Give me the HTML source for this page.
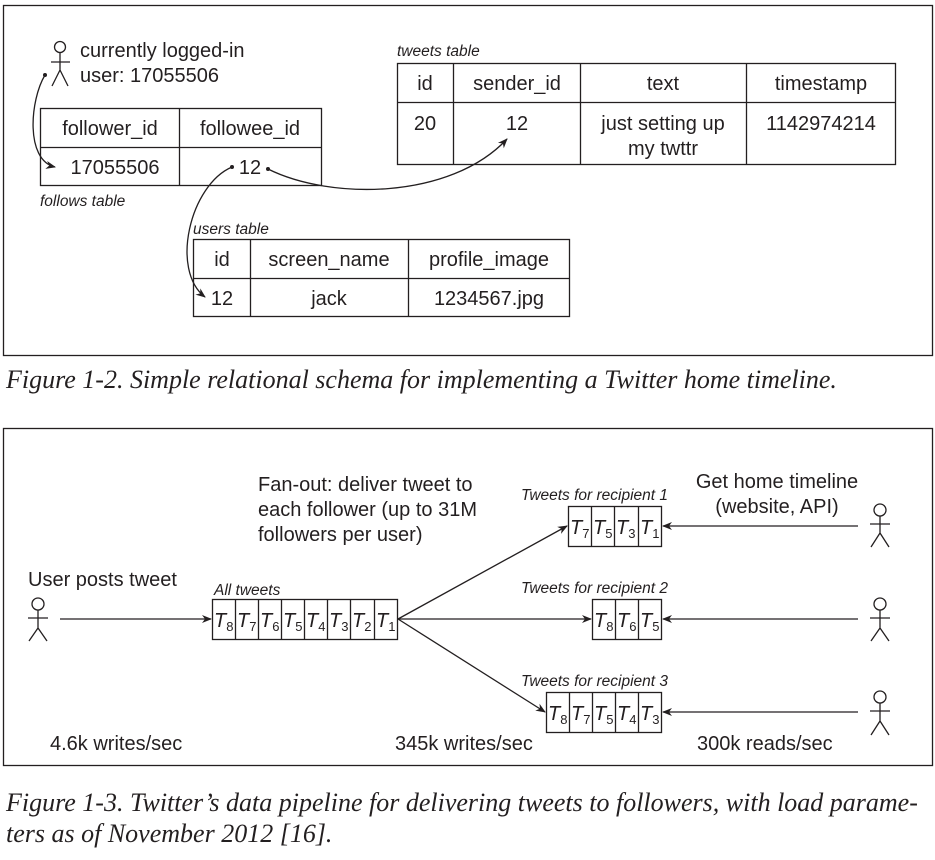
<!DOCTYPE html>
<html><head><meta charset="utf-8"><style>
html,body{margin:0;padding:0;background:#fff;}
svg{display:block;}
text{font-family:"Liberation Sans",sans-serif;fill:#231f20;}
.t{font-size:20px;}
.it{font-style:italic;font-size:15.5px;}
.cap{font-family:"Liberation Serif",serif;font-style:italic;font-size:26px;}
.ti{font-style:italic;font-size:20px;}
.sub{font-size:13px;font-style:normal;}
</style></head><body>
<svg width="935" height="860" viewBox="0 0 935 860" xmlns="http://www.w3.org/2000/svg">
<defs>
<marker id="a" markerWidth="10" markerHeight="10" refX="9" refY="5" orient="auto" markerUnits="userSpaceOnUse">
<path d="M0,1 L10,5 L0,9 L3,5 Z" fill="#231f20"/></marker>
</defs>
<g fill="none" stroke="#231f20" stroke-width="1.3">
<rect x="3.5" y="5.5" width="929" height="350"/>
<rect x="3.5" y="428.5" width="929" height="337"/>
<circle cx="60" cy="47" r="5.5"/><path d="M60,52.5 V70 M51,62 H70 M60,70 L52,86 M60,70 L68,86"/>
<rect x="40.5" y="108.5" width="281" height="77"/><path d="M40,147.5 H322 M179.5,108 V186"/>
<rect x="397.5" y="63.5" width="498" height="101"/><path d="M397,102.5 H896 M453.5,63 V165 M580.5,63 V165 M746.5,63 V165"/>
<rect x="193.5" y="239.5" width="376" height="77"/><path d="M193,278.5 H570 M250.5,239 V317 M408.5,239 V317"/>
<path d="M45,75 C30,100 25,160 55,167" marker-end="url(#a)"/>
<path d="M232,167 C190,185 170,270 205,297" marker-end="url(#a)"/>
<path d="M268,169 C330,200 450,200 507,139" marker-end="url(#a)"/>
</g>
<g fill="#231f20"><circle cx="45" cy="75" r="2"/><circle cx="232" cy="167" r="2"/><circle cx="268" cy="169" r="2"/></g>
<text class="t" x="80" y="57">currently logged-in</text>
<text class="t" x="80" y="82">user: 17055506</text>
<text class="it" x="397" y="56">tweets table</text>
<text class="it" x="40" y="206">follows table</text>
<text class="it" x="193" y="234">users table</text>
<g class="t" text-anchor="middle">
<text x="110" y="135">follower_id</text><text x="250" y="135">followee_id</text>
<text x="115" y="174">17055506</text><text x="250" y="174">12</text>
<text x="425" y="90">id</text><text x="517" y="90">sender_id</text><text x="663" y="90">text</text><text x="821" y="90">timestamp</text>
<text x="425" y="130">20</text><text x="517" y="130">12</text><text x="663" y="130">just setting up</text><text x="663" y="155">my twttr</text><text x="821" y="130">1142974214</text>
<text x="222" y="266">id</text><text x="329" y="266">screen_name</text><text x="489" y="266">profile_image</text>
<text x="222" y="305">12</text><text x="329" y="305">jack</text><text x="489" y="305">1234567.jpg</text>
</g>
<text class="cap" x="6" y="388">Figure 1-2. Simple relational schema for implementing a Twitter home timeline.</text>

<g fill="none" stroke="#231f20" stroke-width="1.3">
<circle cx="38" cy="604" r="6"/><path d="M38,610 V628 M28,618 H48 M38,628 L29,641 M38,628 L47,641"/>
<circle cx="880" cy="510" r="6"/><path d="M880,516 V533 M870,524 H890 M880,533 L871,547 M880,533 L889,547"/>
<circle cx="880" cy="604" r="6"/><path d="M880,610 V628 M870,618 H890 M880,628 L871,641 M880,628 L889,641"/>
<circle cx="880" cy="697" r="6"/><path d="M880,703 V721 M870,711 H890 M880,721 L871,735 M880,721 L889,735"/>
<rect x="212.5" y="599.5" width="185" height="40"/>
<path d="M235.5,599 V640 M258.5,599 V640 M281.5,599 V640 M304.5,599 V640 M327.5,599 V640 M350.5,599 V640 M374.5,599 V640"/>
<rect x="568.5" y="506.5" width="93" height="40"/><path d="M591.5,506 V547 M614.5,506 V547 M638.5,506 V547"/>
<rect x="592.5" y="599.5" width="69" height="40"/><path d="M615.5,599 V640 M638.5,599 V640"/>
<rect x="546.5" y="692.5" width="115" height="40"/><path d="M569.5,692 V733 M592.5,692 V733 M615.5,692 V733 M638.5,692 V733"/>
<path d="M60,619 H211" marker-end="url(#a)"/>
<path d="M398,619 L567,526" marker-end="url(#a)"/>
<path d="M398,619 H591" marker-end="url(#a)"/>
<path d="M398,619 L545,712" marker-end="url(#a)"/>
<path d="M858,526 H663" marker-end="url(#a)"/>
<path d="M858,619 H663" marker-end="url(#a)"/>
<path d="M858,712 H663" marker-end="url(#a)"/>
</g>
<g class="ti">
<text x="214" y="627">T<tspan class="sub" dy="4">8</tspan></text>
<text x="237" y="627">T<tspan class="sub" dy="4">7</tspan></text>
<text x="260" y="627">T<tspan class="sub" dy="4">6</tspan></text>
<text x="283" y="627">T<tspan class="sub" dy="4">5</tspan></text>
<text x="306" y="627">T<tspan class="sub" dy="4">4</tspan></text>
<text x="329" y="627">T<tspan class="sub" dy="4">3</tspan></text>
<text x="352" y="627">T<tspan class="sub" dy="4">2</tspan></text>
<text x="376" y="627">T<tspan class="sub" dy="4">1</tspan></text>
<text x="570" y="534">T<tspan class="sub" dy="4">7</tspan></text>
<text x="593" y="534">T<tspan class="sub" dy="4">5</tspan></text>
<text x="616" y="534">T<tspan class="sub" dy="4">3</tspan></text>
<text x="640" y="534">T<tspan class="sub" dy="4">1</tspan></text>
<text x="594" y="627">T<tspan class="sub" dy="4">8</tspan></text>
<text x="617" y="627">T<tspan class="sub" dy="4">6</tspan></text>
<text x="640" y="627">T<tspan class="sub" dy="4">5</tspan></text>
<text x="548" y="720">T<tspan class="sub" dy="4">8</tspan></text>
<text x="571" y="720">T<tspan class="sub" dy="4">7</tspan></text>
<text x="594" y="720">T<tspan class="sub" dy="4">5</tspan></text>
<text x="617" y="720">T<tspan class="sub" dy="4">4</tspan></text>
<text x="640" y="720">T<tspan class="sub" dy="4">3</tspan></text>
</g>
<text class="it" x="214" y="595">All tweets</text>
<text class="it" x="521" y="500">Tweets for recipient 1</text>
<text class="it" x="521" y="593">Tweets for recipient 2</text>
<text class="it" x="521" y="686">Tweets for recipient 3</text>
<text class="t" x="28" y="586">User posts tweet</text>
<text class="t" x="258" y="491">Fan-out: deliver tweet to</text>
<text class="t" x="258" y="516">each follower (up to 31M</text>
<text class="t" x="258" y="541">followers per user)</text>
<text class="t" x="777" y="488" text-anchor="middle">Get home timeline</text>
<text class="t" x="777" y="513" text-anchor="middle">(website, API)</text>
<text class="t" x="50" y="750">4.6k writes/sec</text>
<text class="t" x="395" y="750">345k writes/sec</text>
<text class="t" x="697" y="750">300k reads/sec</text>
<text class="cap" x="6" y="811">Figure 1-3. Twitter’s data pipeline for delivering tweets to followers, with load parame-</text>
<text class="cap" x="6" y="842">ters as of November 2012 [16].</text>
</svg>
</body></html>
